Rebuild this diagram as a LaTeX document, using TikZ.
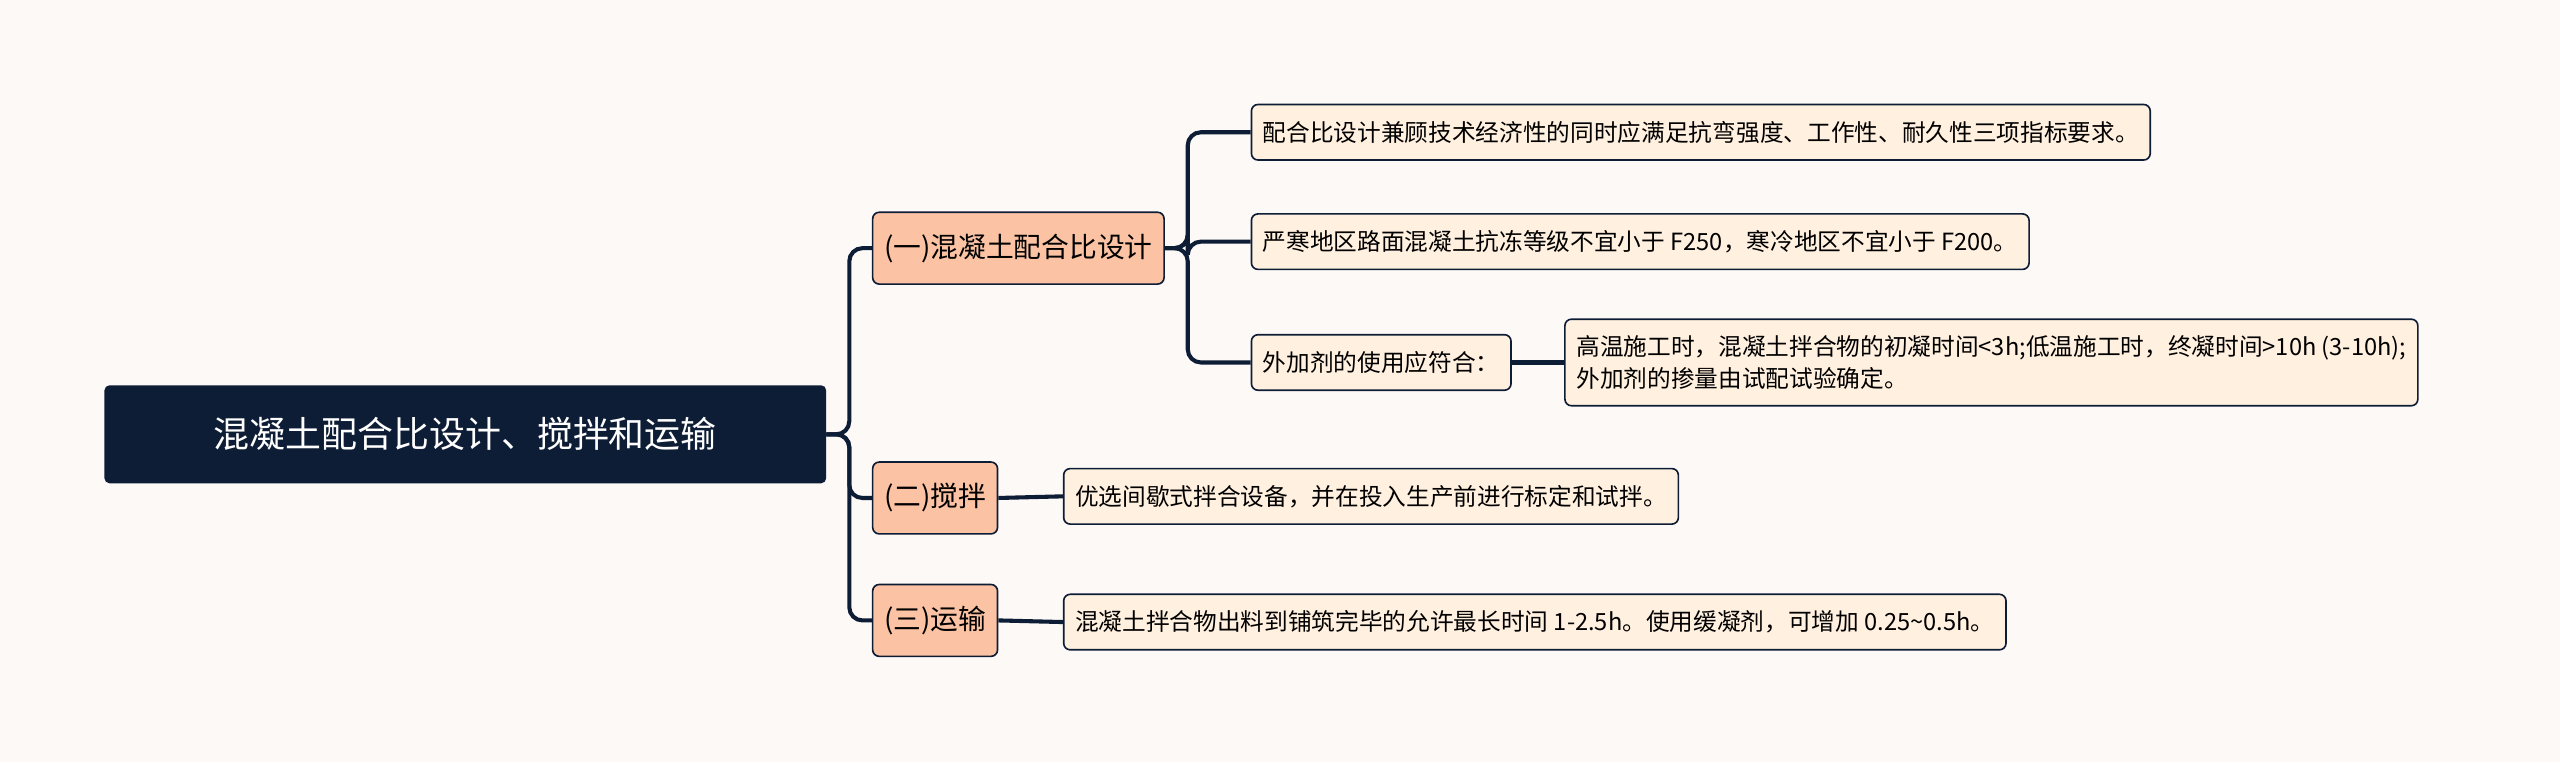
\documentclass[tikz,border=0pt]{standalone}
\usepackage{fontspec}
\setmainfont{Noto Sans CJK SC}
\usetikzlibrary{positioning}
\definecolor{navy}{HTML}{0E1D36}
\definecolor{salmon}{HTML}{FBC3A3}
\definecolor{cream}{HTML}{FFF0DF}
\definecolor{bgc}{HTML}{FDF9F7}
\tikzset{
  rootbox/.style = {fill=navy, text=white, rounded corners=3pt, minimum width=442pt, minimum height=60pt, font=\fontsize{22}{26}\selectfont},
  topicbox/.style = {draw=navy, line width=1pt, fill=salmon, rounded corners=4pt, anchor=west, inner xsep=7pt, minimum height=44pt, font=\fontsize{17}{20}\selectfont},
  leafbox/.style = {draw=navy, line width=1pt, fill=cream, rounded corners=4pt, anchor=west, inner xsep=7pt, minimum height=34pt, align=left, font=\fontsize{14.5}{20}\selectfont},
  link/.style = {draw=navy, line width=2.5pt, rounded corners=8pt}
}
\begin{document}
\begin{tikzpicture}[x=1pt, y=-1pt]
\fill[bgc] (0,0) rectangle (1568,467);
\useasboundingbox (0,0) rectangle (1568,467);

\node[rootbox] (root) at (285, 266) {混凝土配合比设计、搅拌和运输};

\node[topicbox] (design) at (534, 152) {(一)混凝土配合比设计};
\node[topicbox] (mix)    at (534, 305) {(二)搅拌};
\node[topicbox] (trans)  at (534, 380) {(三)运输};

\node[leafbox] (d1) at (766, 81)  {配合比设计兼顾技术经济性的同时应满足抗弯强度、工作性、耐久性三项指标要求。};
\node[leafbox] (d2) at (766, 148) {严寒地区路面混凝土抗冻等级不宜小于 F250，寒冷地区不宜小于 F200。};
\node[leafbox] (d3) at (766, 222) {外加剂的使用应符合：};
\node[leafbox, minimum height=53pt] (d4) at (958, 222) {高温施工时，混凝土拌合物的初凝时间<3h;低温施工时，终凝时间>10h (3-10h);\\外加剂的掺量由试配试验确定。};
\node[leafbox] (m1) at (651, 304) {优选间歇式拌合设备，并在投入生产前进行标定和试拌。};
\node[leafbox] (t1) at (651, 381) {混凝土拌合物出料到铺筑完毕的允许最长时间 1-2.5h。使用缓凝剂，可增加 0.25\textasciitilde0.5h。};

% branches
\foreach \t in {design, mix, trans}
  \draw[link] (root.east) -- ++(14,0) |- (\t.west);
\foreach \t in {d1, d2, d3}
  \draw[link] (design.east) -- ++(14,0) |- (\t.west);
\draw[link] (d3.east) -- (d4.west);
\draw[link] (mix.east) -- (m1.west);
\draw[link] (trans.east) -- (t1.west);
\end{tikzpicture}
\end{document}
